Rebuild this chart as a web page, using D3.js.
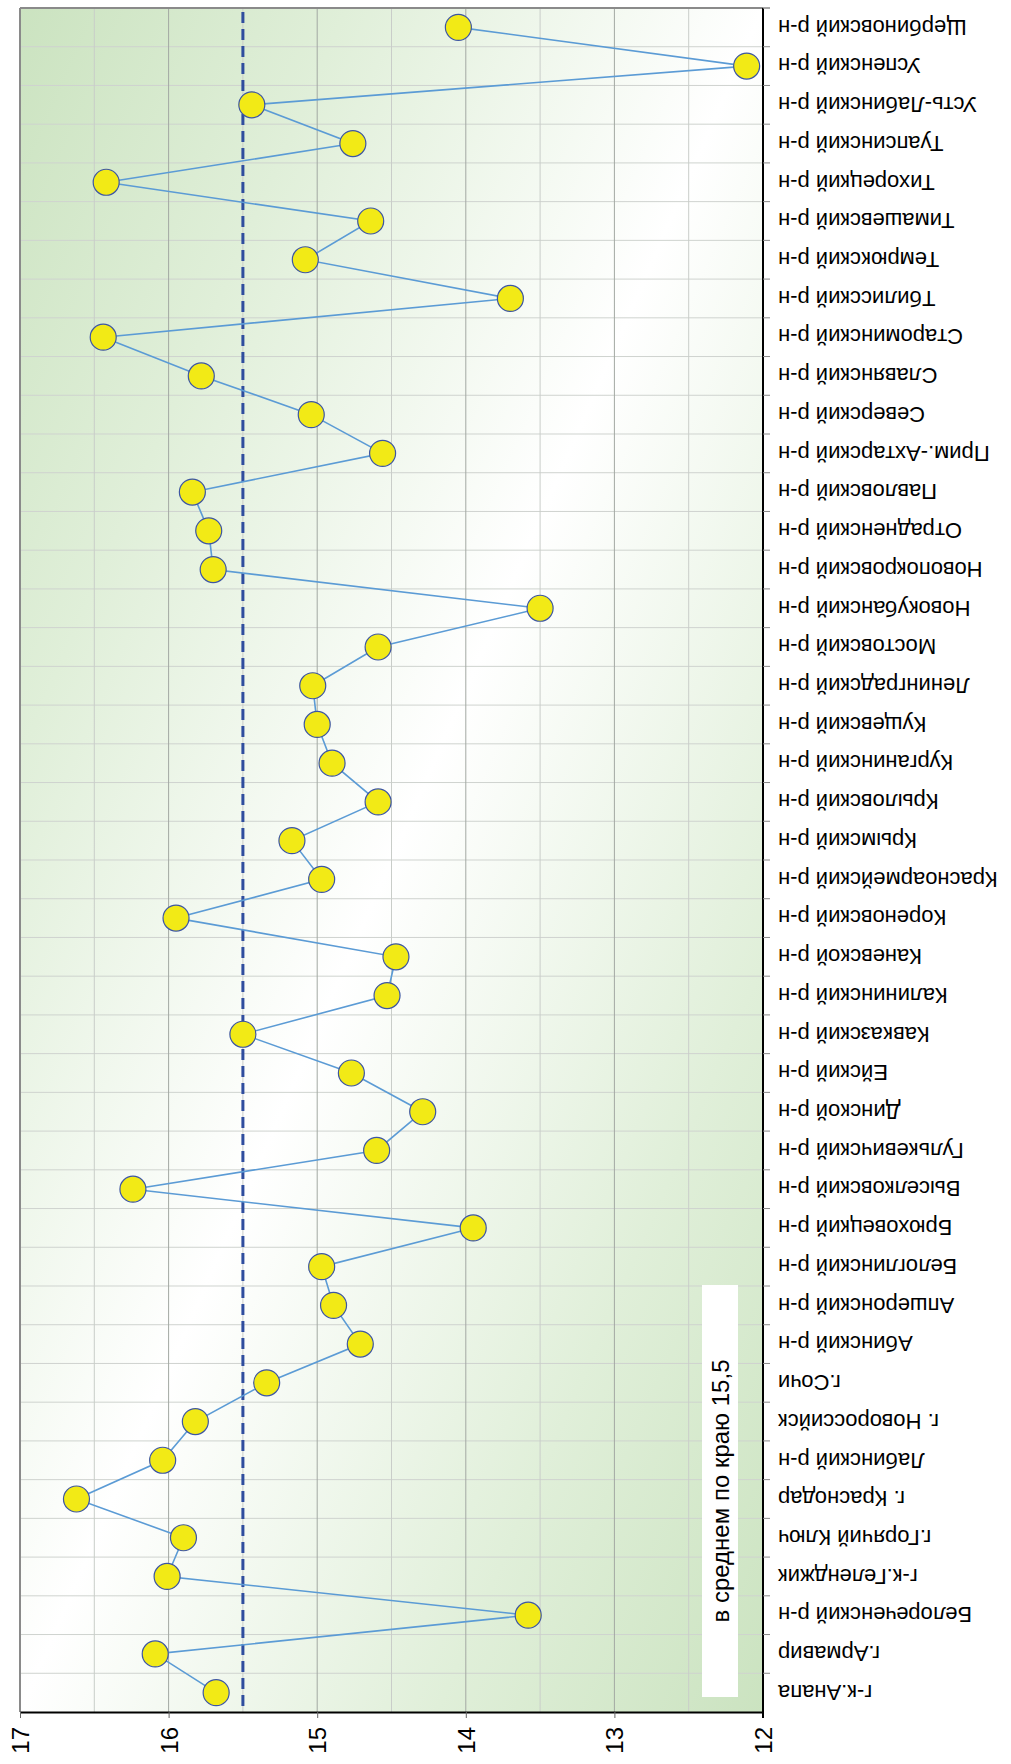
<!DOCTYPE html>
<html><head><meta charset="utf-8">
<script src="https://cdn.jsdelivr.net/npm/d3@7/dist/d3.min.js"></script>
<style>html,body{margin:0;padding:0;background:#fff;}svg{display:block;font-family:"Liberation Sans",Arial,sans-serif;}</style>
</head><body>
<script>
const categories = ["г-к.Анапа","г.Армавир","Белореченский р-н","г-к.Геленджик","г.Горячий Ключ","г. Краснодар","Лабинский р-н","г. Новороссийск","г.Сочи","Абинский р-н","Апшеронский р-н","Белоглинский р-н","Брюховецкий р-н","Выселковский р-н","Гулькевичский р-н","Динской р-н","Ейский р-н","Кавказский р-н","Калининский р-н","Каневской р-н","Кореновский р-н","Красноармейский р-н","Крымский р-н","Крыловский р-н","Курганинский р-н","Кущевский р-н","Ленинградский р-н","Мостовский р-н","Новокубанский р-н","Новопокровский р-н","Отрадненский р-н","Павловский р-н","Прим.-Ахтарский р-н","Северский р-н","Славянский р-н","Староминский р-н","Тбилисский р-н","Темрюкский р-н","Тимашевский р-н","Тихорецкий р-н","Туапсинский р-н","Усть-Лабинский р-н","Успенский р-н","Щербиновский р-н"];
const values = [15.68,16.09,13.58,16.01,15.90,16.62,16.04,15.82,15.34,14.71,14.89,14.97,13.95,16.24,14.60,14.29,14.77,15.50,14.53,14.47,15.95,14.97,15.17,14.59,14.90,15.00,15.03,14.59,13.50,15.70,15.73,15.84,14.56,15.04,15.78,16.44,13.70,15.08,14.64,16.42,14.76,15.44,12.11,14.05];
const average = 15.5;
const averageLabel = "в среднем по краю 15,5";
const valueTicks = [17,16,15,14,13,12];
const gridValues = [16.5,16,15.5,15,14.5,14,13.5,13,12.5];

const W = 1011, H = 1764;
const L = 20, R = 763, T = 8, B = 1712;
const svg = d3.select("body").append("svg").attr("width", W).attr("height", H);
const defs = svg.append("defs");
const grad = defs.append("linearGradient").attr("id","bg").attr("x1",0).attr("y1",0).attr("x2",1).attr("y2",1);
[[0,"#cbe3c0"],[0.22,"#e0efd9"],[0.5,"#ffffff"],[0.78,"#e0efd9"],[1,"#cbe3c0"]].forEach(s=>grad.append("stop").attr("offset",s[0]).attr("stop-color",s[1]));

const x = d3.scaleLinear().domain([17,12]).range([L,R]);
const y = d3.scaleBand().domain(categories).range([B,T]).padding(0);
const bw = y.bandwidth();

svg.append("rect").attr("x",L).attr("y",T).attr("width",R-L).attr("height",B-T).attr("fill","url(#bg)");

// category gridlines (band boundaries)
const bounds = categories.map(c => y(c));
svg.append("g").selectAll("line").data(bounds).join("line")
  .attr("x1",L).attr("x2",R).attr("y1",d=>d).attr("y2",d=>d)
  .attr("stroke","#cfd3cf").attr("stroke-width",1);
// value gridlines
svg.append("g").selectAll("line").data(gridValues).join("line")
  .attr("x1",d=>x(d)).attr("x2",d=>x(d)).attr("y1",T).attr("y2",B)
  .attr("stroke",d=>Number.isInteger(d)?"#a3a8a3":"#c9cdc9").attr("stroke-width",1);

// borders
svg.append("line").attr("x1",L).attr("x2",R).attr("y1",T).attr("y2",T).attr("stroke","#8a8a8a").attr("stroke-width",2);
svg.append("line").attr("x1",L).attr("x2",L).attr("y1",T).attr("y2",B).attr("stroke","#8a8a8a").attr("stroke-width",2);

// annotation box
const boxG = svg.append("g");
boxG.append("rect").attr("x",702).attr("y",1285).attr("width",36).attr("height",412).attr("fill","#fff");
boxG.append("text").attr("transform","translate(729,1491) rotate(-90)")
  .attr("text-anchor","middle").attr("font-size",24).attr("fill","#000").text(averageLabel);

// average line
svg.append("line").attr("x1",x(average)).attr("x2",x(average)).attr("y1",T+4).attr("y2",B-4)
  .attr("stroke","#2f4d9e").attr("stroke-width",3).attr("stroke-dasharray","11,6");

// series line
const line = d3.line().x(d=>x(d.v)).y(d=>y(d.c)+bw/2);
const data = categories.map((c,i)=>({c, v: values[i]}));
svg.append("path").datum(data).attr("d",line).attr("fill","none").attr("stroke","#5b9bd5").attr("stroke-width",1.6);
svg.append("g").selectAll("circle").data(data).join("circle")
  .attr("cx",d=>x(d.v)).attr("cy",d=>y(d.c)+bw/2).attr("r",13)
  .attr("fill","#f2ea16").attr("stroke","#3d56a3").attr("stroke-width",1.2);

// value axis (bottom)
const xAxis = d3.axisBottom(x).tickValues(valueTicks).tickSize(6).tickSizeOuter(0).tickFormat(d3.format("d"));
const gx = svg.append("g").attr("transform",`translate(0,${B})`).call(xAxis);
gx.select(".domain").attr("stroke","#000").attr("stroke-width",2);
gx.selectAll(".tick line").attr("stroke","#666");
gx.selectAll(".tick text").attr("font-size",24).attr("fill","#000")
  .attr("text-anchor","end").attr("y",0).attr("dy","0.35em")
  .attr("transform","translate(0,15) rotate(-90)");

// category axis (right)
const yAxis = d3.axisRight(y).tickSize(0).tickSizeOuter(0);
const gy = svg.append("g").attr("transform",`translate(${R},0)`).call(yAxis);
gy.select(".domain").remove();
svg.append("line").attr("x1",R).attr("x2",R).attr("y1",T).attr("y2",B+6).attr("stroke","#000").attr("stroke-width",2);
gy.selectAll(".tick text").attr("font-size",22).attr("fill","#000")
  .attr("text-anchor","end").attr("x",0).attr("dy","0.35em")
  .attr("transform","translate(15,0) rotate(180)");
// category tick marks at boundaries
svg.append("g").selectAll("line").data(bounds.concat([T])).join("line")
  .attr("x1",R).attr("x2",R+7).attr("y1",d=>d).attr("y2",d=>d).attr("stroke","#888").attr("stroke-width",1);
</script>
</body></html>
